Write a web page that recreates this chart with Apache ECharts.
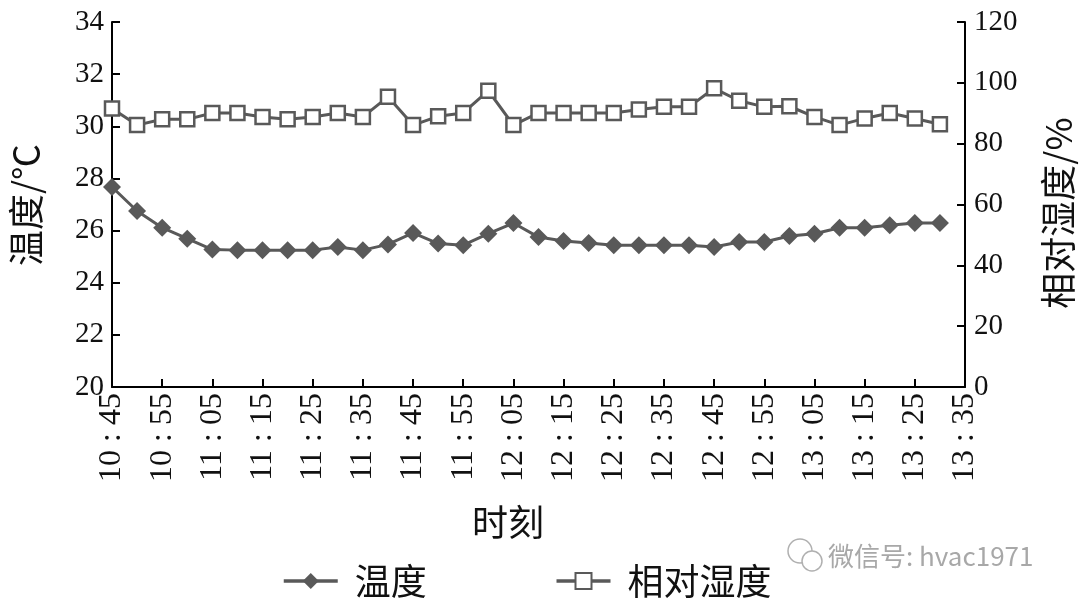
<!DOCTYPE html>
<html>
<head>
<meta charset="utf-8">
<script src="https://cdn.jsdelivr.net/npm/echarts@6/dist/echarts.min.js"></script>
<style>
html,body{margin:0;padding:0;background:#fff;}
#chart{width:1080px;height:605px;}
</style>
</head>
<body>
<div id="chart"></div>
<script>
var times = ['10 : 45','10 : 50','10 : 55','11 : 00','11 : 05','11 : 10','11 : 15','11 : 20','11 : 25','11 : 30',
  '11 : 35','11 : 40','11 : 45','11 : 50','11 : 55','12 : 00','12 : 05','12 : 10','12 : 15','12 : 20',
  '12 : 25','12 : 30','12 : 35','12 : 40','12 : 45','12 : 50','12 : 55','13 : 00','13 : 05','13 : 10',
  '13 : 15','13 : 20','13 : 25','13 : 30','13 : 35'];
var temperature = [27.67, 26.75, 26.11, 25.69, 25.27, 25.25, 25.25, 25.25, 25.25, 25.37,
  25.25, 25.47, 25.91, 25.5, 25.44, 25.88, 26.29, 25.75, 25.6, 25.52,
  25.44, 25.44, 25.44, 25.44, 25.37, 25.56, 25.56, 25.79, 25.88, 26.11,
  26.11, 26.2, 26.29, 26.29];
var humidity = [91.6, 86.1, 88.0, 88.0, 90.1, 90.1, 88.8, 88.0, 88.8, 90.1,
  88.8, 95.4, 86.1, 89.0, 90.1, 97.4, 86.1, 90.1, 90.1, 90.1,
  90.1, 91.2, 92.1, 92.1, 98.2, 94.1, 92.1, 92.3, 88.8, 86.1,
  88.3, 90.1, 88.3, 86.4];
var tempTicks = {min: 20, max: 34, interval: 2};
var humTicks = {min: 0, max: 120, interval: 20};
var seriesNames = ['温度', '相对湿度'];
var axisNames = {x: '时刻', left: '温度/℃', right: '相对湿度/%'};
var watermark = '微信号: hvac1971';

var serif = "'Liberation Serif', 'Times New Roman', Tinos, 'DejaVu Serif', serif";
var cjk = "'Noto Sans CJK SC', sans-serif";
var gray = '#595959';
var ink = '#111';

var chart = echarts.init(document.getElementById('chart'), null, {renderer: 'canvas'});
var axisLineStyle = {show: true, lineStyle: {color: '#000', width: 2}};
chart.setOption({
  animation: false,
  backgroundColor: '#fff',
  textStyle: {fontFamily: serif},
  grid: {left: 112, right: 115, top: 22, bottom: 218, containLabel: false, outerBoundsMode: 'none'},
  legend: {
    left: 277, top: 558,
    itemWidth: 54, itemHeight: 20, itemGap: 128,
    lineStyle: {width: 3.5},
    textStyle: {fontFamily: cjk, fontSize: 36, color: ink, padding: [0, 0, 0, 12]},
    data: seriesNames
  },
  xAxis: {
    type: 'category', data: times, boundaryGap: false,
    axisLine: {show: true, onZero: false, lineStyle: {color: '#000', width: 2}},
    axisTick: {show: true, inside: true, length: 8, interval: 1, lineStyle: {color: '#000', width: 2}},
    axisLabel: {interval: 1, rotate: 90, margin: 6, fontFamily: serif, fontSize: 32, color: ink},
    splitLine: {show: false}
  },
  yAxis: [{
    type: 'value', min: tempTicks.min, max: tempTicks.max, interval: tempTicks.interval,
    position: 'left',
    axisLine: axisLineStyle,
    axisTick: {show: true, inside: true, length: 8, lineStyle: {color: '#000', width: 2}},
    axisLabel: {margin: 8, fontFamily: serif, fontSize: 29, color: ink},
    splitLine: {show: false}
  }, {
    type: 'value', min: humTicks.min, max: humTicks.max, interval: humTicks.interval,
    position: 'right',
    axisLine: axisLineStyle,
    axisTick: {show: true, inside: true, length: 8, lineStyle: {color: '#000', width: 2}},
    axisLabel: {margin: 9, fontFamily: serif, fontSize: 29, color: ink},
    splitLine: {show: false}
  }],
  series: [{
    name: seriesNames[0], type: 'line', yAxisIndex: 0, data: temperature,
    symbol: 'diamond', symbolSize: 18, showAllSymbol: true,
    lineStyle: {color: gray, width: 3},
    itemStyle: {color: gray}
  }, {
    name: seriesNames[1], type: 'line', yAxisIndex: 1, data: humidity,
    symbol: 'rect', symbolSize: 14, showAllSymbol: true,
    lineStyle: {color: gray, width: 3},
    itemStyle: {color: '#fff', borderColor: gray, borderWidth: 2.5}
  }],
  graphic: [{
    type: 'text', x: 508, y: 522,
    style: {text: axisNames.x, font: "36px 'Noto Sans CJK SC'", fill: ink, align: 'center', verticalAlign: 'middle', textAlign: 'center', textVerticalAlign: 'middle'}
  }, {
    type: 'text', x: 26, y: 205, rotation: Math.PI / 2,
    style: {text: axisNames.left, font: "36px 'Noto Sans CJK SC'", fill: ink, align: 'center', verticalAlign: 'middle', textAlign: 'center', textVerticalAlign: 'middle'}
  }, {
    type: 'text', x: 1058, y: 213, rotation: Math.PI / 2,
    style: {text: axisNames.right, font: "36px 'Noto Sans CJK SC'", fill: ink, align: 'center', verticalAlign: 'middle', textAlign: 'center', textVerticalAlign: 'middle'}
  }, {
    type: 'circle', shape: {cx: 800, cy: 551, r: 12},
    style: {fill: 'none', stroke: '#b0b0b0', lineWidth: 1.5}
  }, {
    type: 'circle', shape: {cx: 812, cy: 561, r: 10},
    style: {fill: '#fff', stroke: '#b0b0b0', lineWidth: 1.5}
  }, {
    type: 'text', x: 828, y: 556,
    style: {text: watermark, font: "26px 'Noto Sans CJK SC'", fill: '#a8a8a8', align: 'left', verticalAlign: 'middle', textAlign: 'left', textVerticalAlign: 'middle'}
  }]
});
</script>
</body>
</html>
